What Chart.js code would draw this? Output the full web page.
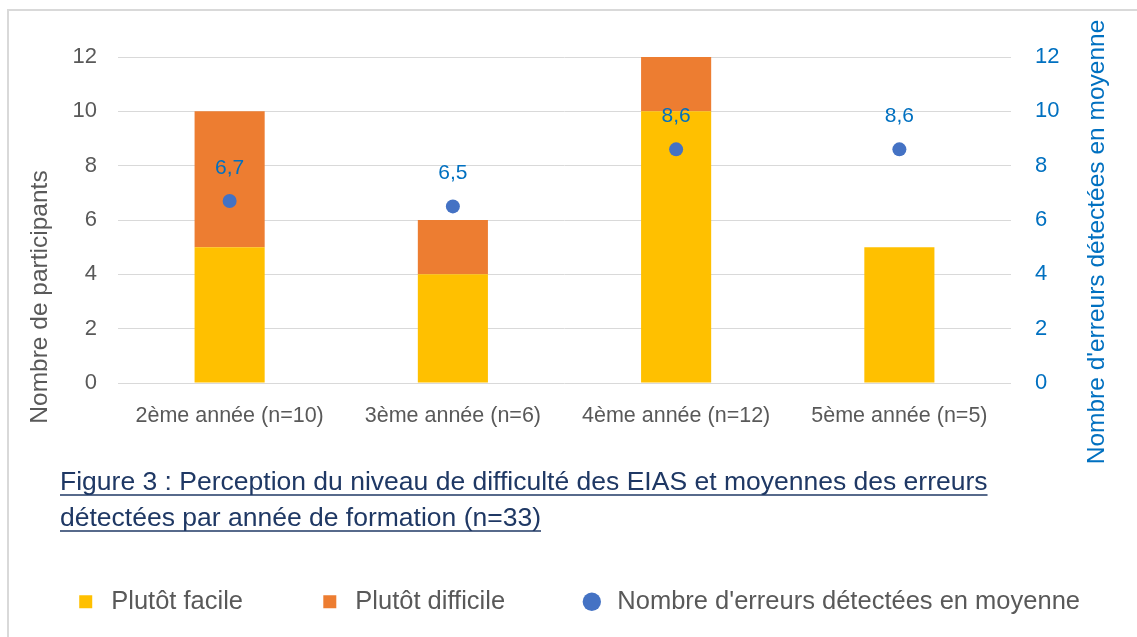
<!DOCTYPE html>
<html>
<head>
<meta charset="utf-8">
<script src="https://cdn.jsdelivr.net/npm/chart.js"></script>
<style>
  html, body { margin: 0; padding: 0; background: #fff; overflow: hidden; }
  #frame { position: absolute; left: 7px; top: 9px; width: 1140px; height: 640px; border: 2px solid #d9d9d9; box-sizing: border-box; }
  #box { position: absolute; left: 0; top: 0; width: 1128px; height: 626px; }
</style>
</head>
<body>
<div id="frame"><div id="box"><canvas id="chart"></canvas></div></div>
<script>
  const categories = ['2ème année (n=10)', '3ème année (n=6)', '4ème année (n=12)', '5ème année (n=5)'];
  const facile = [5, 4, 10, 5];
  const difficile = [5, 2, 2, 0];
  const moyenne = [6.7, 6.5, 8.6, 8.6];
  const titleLines = [
    'Figure 3 : Perception du niveau de difficulté des EIAS et moyennes des erreurs',
    'détectées par année de formation (n=33)'
  ];
  const leftTitle = 'Nombre de participants';
  const rightTitle = "Nombre d'erreurs détectées en moyenne";

  const FONT = '"Liberation Sans", Arial, sans-serif';
  const GREY = '#595959';
  const BLUE = '#0070C0';

  // labels above the points
  const pointLabels = {
    id: 'pointLabels',
    afterDatasetsDraw(chart) {
      const ctx = chart.ctx;
      const meta = chart.getDatasetMeta(0);
      ctx.save();
      ctx.font = '21px ' + FONT;
      ctx.fillStyle = BLUE;
      ctx.textAlign = 'center';
      ctx.textBaseline = 'middle';
      meta.data.forEach((pt, i) => {
        ctx.fillText(String(moyenne[i]).replace('.', ','), pt.x, pt.y - 33);
      });
      ctx.restore();
    }
  };

  function vertText(ctx, text, x, y, color) {
    ctx.save();
    ctx.font = '24.5px ' + FONT;
    ctx.fillStyle = color;
    ctx.textAlign = 'center';
    ctx.textBaseline = 'middle';
    ctx.translate(x, y);
    ctx.rotate(-Math.PI / 2);
    ctx.fillText(text, 0, 0);
    ctx.restore();
  }

  // underlined figure caption + axis titles (both read bottom to top)
  const caption = {
    id: 'caption',
    afterDraw(chart) {
      const ctx = chart.ctx;
      ctx.save();
      ctx.font = '26.5px ' + FONT;
      ctx.fillStyle = '#1F3864';
      ctx.strokeStyle = '#1F3864';
      ctx.lineWidth = 1.5;
      ctx.textAlign = 'left';
      ctx.textBaseline = 'alphabetic';
      titleLines.forEach((t, i) => {
        const y = 479 + i * 36;
        ctx.fillText(t, 51, y);
        const w = ctx.measureText(t).width;
        ctx.beginPath();
        ctx.moveTo(51, y + 5);
        ctx.lineTo(51 + w, y + 5);
        ctx.stroke();
      });
      ctx.restore();

      vertText(ctx, leftTitle, 31, 286, GREY);
      vertText(ctx, rightTitle, 1088, 231, BLUE);
    }
  };

  // keep the legend on one row, low in the frame under the caption
  const legendSpace = {
    id: 'legendSpace',
    afterInit(chart) {
      const lg = chart.legend;
      const fit = lg.fit.bind(lg);
      lg.fit = function () { this.maxWidth = 1400; fit(); this.height = 122; };
    },
    afterLayout(chart) {
      chart.legend.left = -64;
      chart.legend.right = 1199;
    }
  };

  new Chart(document.getElementById('chart'), {
    type: 'bar',
    data: {
      labels: categories,
      datasets: [
        { type: 'line', label: "Nombre d'erreurs détectées en moyenne", data: moyenne, yAxisID: 'y1',
          showLine: false, pointRadius: 7, pointHoverRadius: 7, pointStyle: 'circle',
          backgroundColor: '#4472C4', borderColor: '#4472C4', pointBorderWidth: 0, order: 0 },
        { label: 'Plutôt facile', data: facile, backgroundColor: '#FFC000', yAxisID: 'y', pointStyle: 'rect', order: 1 },
        { label: 'Plutôt difficile', data: difficile, backgroundColor: '#ED7D31', yAxisID: 'y', pointStyle: 'rect', order: 1 }
      ]
    },
    options: {
      responsive: true,
      maintainAspectRatio: false,
      animation: false,
      layout: { padding: { top: 46, bottom: 0, left: 0, right: 0 } },
      datasets: { bar: { categoryPercentage: 1, barPercentage: 0.314 } },
      plugins: {
        tooltip: { enabled: false },
        legend: {
          position: 'bottom',
          labels: {
            usePointStyle: true,
            boxHeight: 13,
            padding: 74,
            color: GREY,
            font: { family: FONT, size: 25.5 },
            sort: (a, b) => {
              const rank = [2, 0, 1];
              return rank[a.datasetIndex] - rank[b.datasetIndex];
            }
          }
        }
      },
      scales: {
        x: {
          stacked: true,
          grid: { display: false, drawTicks: false },
          border: { display: false },
          ticks: { color: GREY, font: { family: FONT, size: 21.5 }, padding: 20 },
          afterFit: s => { s.height = 132; }
        },
        y: {
          position: 'left',
          stacked: true,
          min: 0, max: 12,
          grid: { color: '#d9d9d9', drawTicks: false },
          border: { display: false },
          ticks: { stepSize: 2, color: GREY, font: { family: FONT, size: 22 }, padding: 21 },
          afterFit: s => { s.width = 109; }
        },
        y1: {
          position: 'right',
          min: 0, max: 12,
          grid: { display: false, drawTicks: false },
          border: { display: false },
          ticks: { stepSize: 2, color: BLUE, font: { family: FONT, size: 22 }, padding: 24 },
          afterFit: s => { s.width = 126; }
        }
      }
    },
    plugins: [pointLabels, caption, legendSpace]
  });
</script>
</body>
</html>
